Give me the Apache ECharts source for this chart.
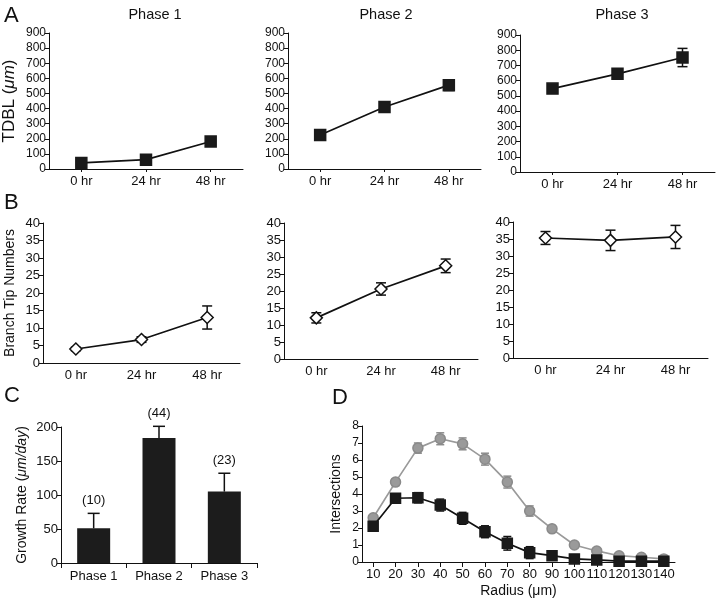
<!DOCTYPE html>
<html>
<head>
<meta charset="utf-8">
<script src="https://cdn.jsdelivr.net/npm/echarts@6/dist/echarts.min.js"></script>
<style>
html,body{margin:0;padding:0;background:#fff;}
#main{width:720px;height:603px;}
</style>
</head>
<body>
<div id="main"></div>
<script>
// ---- Data ----
const hours = ['0 hr', '24 hr', '48 hr'];
const tdblP1 = [40, 62, 182];
const tdblP1Err = [10, 10, 22];
const tdblP2 = [225, 410, 555];
const tdblP2Err = [12, 15, 35];
const tdblP3 = [548, 645, 752];
const tdblP3Err = [12, 22, 60];
const tdblTicks = [0, 900, 100];

const tipsP1 = [4.0, 6.7, 13.0];
const tipsP1Err = [0.5, 0.8, 3.3];
const tipsP2 = [12.1, 20.6, 27.4];
const tipsP2Err = [1.5, 1.8, 2.0];
const tipsP3 = [35.3, 34.6, 35.6];
const tipsP3Err = [1.9, 3.0, 3.4];
const tipsTicks = [0, 40, 5];

const phases = ['Phase 1', 'Phase 2', 'Phase 3'];
const growthRate = [51, 184, 105];
const growthErr = [22, 17, 27];
const growthN = ['(10)', '(44)', '(23)'];
const growthTicks = [0, 200, 50];

const radius = ['10','20','30','40','50','60','70','80','90','100','110','120','130','140'];
const intersectGray = [2.6, 4.7, 6.7, 7.25, 6.95, 6.05, 4.7, 3.0, 1.95, 1.0, 0.65, 0.37, 0.28, 0.18];
const intersectGrayErr = [0.15, 0.2, 0.3, 0.35, 0.35, 0.35, 0.35, 0.3, 0.2, 0.12, 0.1, 0.08, 0.06, 0.05];
const intersectBlack = [2.1, 3.75, 3.78, 3.35, 2.57, 1.78, 1.1, 0.55, 0.37, 0.18, 0.12, 0.05, 0.05, 0.05];
const intersectBlackErr = [0.1, 0.2, 0.3, 0.35, 0.35, 0.35, 0.4, 0.35, 0.2, 0.12, 0.08, 0.05, 0.05, 0.05];
const intersectTicks = [0, 8, 1];

// ---- Helpers ----
const FONT = 'Liberation Sans, Arial, Helvetica, sans-serif';
const INK = '#111';

function errData(vals, errs) { return vals.map((v, i) => [i, v, errs[i]]); }

function errRender(color, capHalf, lw) {
  return function (params, api) {
    const x = api.value(0), v = api.value(1), e = api.value(2);
    const top = api.coord([x, v + e]);
    const bot = api.coord([x, v - e]);
    const st = { stroke: color, lineWidth: lw };
    return {
      type: 'group',
      children: [
        { type: 'line', shape: { x1: top[0], y1: top[1], x2: bot[0], y2: bot[1] }, style: st },
        { type: 'line', shape: { x1: top[0] - capHalf, y1: top[1], x2: top[0] + capHalf, y2: top[1] }, style: st },
        { type: 'line', shape: { x1: bot[0] - capHalf, y1: bot[1], x2: bot[0] + capHalf, y2: bot[1] }, style: st }
      ]
    };
  };
}

function barErrRender(params, api) {
  const x = api.value(0), v = api.value(1), e = api.value(2);
  const base = api.coord([x, v]);
  const top = api.coord([x, v + e]);
  const st = { stroke: INK, lineWidth: 1.5 };
  return {
    type: 'group',
    children: [
      { type: 'line', shape: { x1: base[0], y1: base[1], x2: top[0], y2: top[1] }, style: st },
      { type: 'line', shape: { x1: top[0] - 6, y1: top[1], x2: top[0] + 6, y2: top[1] }, style: st },
      { type: 'text', x: top[0], y: top[1] - 6,
        style: { text: growthN[params.dataIndex], fill: INK, font: '13px ' + FONT, align: 'center', verticalAlign: 'bottom' } }
    ]
  };
}

function yAx(gi, ticks, labelSize, name, nameGap, nameSize, rich) {
  return {
    type: 'value', gridIndex: gi, min: ticks[0], max: ticks[1], interval: ticks[2],
    splitLine: { show: false },
    axisLine: { show: true, lineStyle: { color: INK, width: 1 } },
    axisTick: { show: true, length: 4, lineStyle: { color: INK } },
    axisLabel: { color: INK, fontSize: labelSize, fontFamily: FONT, margin: 3 },
    name: name || '', nameLocation: 'middle', nameGap: nameGap || 0,
    nameTextStyle: { color: INK, fontSize: nameSize || 14, fontFamily: FONT, rich: rich || {} }
  };
}

function xAx(gi, cats, opts) {
  opts = opts || {};
  return Object.assign({
    type: 'category', gridIndex: gi, data: cats, boundaryGap: true,
    axisLine: { show: true, onZero: false, lineStyle: { color: INK, width: 1 } },
    axisTick: { show: true, alignWithLabel: true, length: 3, lineStyle: { color: INK } },
    axisLabel: { color: INK, fontSize: 13, fontFamily: FONT, margin: 6, interval: 0 },
    splitLine: { show: false }
  }, opts);
}

function lineSeries(gi, data, symbol, size, fill, border, lineColor) {
  return {
    type: 'line', xAxisIndex: gi, yAxisIndex: gi, data: data,
    symbol: symbol, symbolSize: size, showSymbol: true,
    itemStyle: { color: fill, borderColor: border, borderWidth: 1.5 },
    lineStyle: { color: lineColor, width: 1.7 },
    z: 5, animation: false
  };
}

function errSeries(gi, vals, errs, color, capHalf) {
  return {
    type: 'custom', xAxisIndex: gi, yAxisIndex: gi,
    data: errData(vals, errs), renderItem: errRender(color, capHalf, 1.5),
    encode: { x: 0, y: 1 }, z: 3, animation: false
  };
}

const italicRich = { i: { fontStyle: 'italic', fontSize: 17, fontFamily: FONT, color: INK } };
const italicRich14 = { i: { fontStyle: 'italic', fontSize: 14, fontFamily: FONT, color: INK } };

const option = {
  backgroundColor: '#fff',
  animation: false,
  textStyle: { fontFamily: FONT },
  grid: [
    { left: 48, top: 33, width: 195, height: 136 },
    { left: 288, top: 33, width: 193, height: 136 },
    { left: 520, top: 35, width: 195, height: 137 },
    { left: 43, top: 223, width: 197, height: 140 },
    { left: 284, top: 223, width: 194, height: 136 },
    { left: 513, top: 222, width: 195, height: 136 },
    { left: 61, top: 427, width: 196, height: 136 },
    { left: 362, top: 426, width: 313, height: 136 }
  ],
  xAxis: [
    xAx(0, hours), xAx(1, hours), xAx(2, hours),
    xAx(3, hours, { axisTick: { show: false } }),
    xAx(4, hours, { axisTick: { show: false } }),
    xAx(5, hours, { axisTick: { show: false } }),
    xAx(6, phases, { axisTick: { show: true, alignWithLabel: false, length: 5, lineStyle: { color: INK } }, axisLabel: { color: INK, fontSize: 13, fontFamily: FONT, margin: 7, interval: 0 } }),
    xAx(7, radius, {
      axisTick: { show: true, alignWithLabel: true, length: 5, lineStyle: { color: INK } },
      axisLabel: { color: INK, fontSize: 13, fontFamily: FONT, margin: 6, interval: 0, hideOverlap: false },
      name: 'Radius (μm)', nameLocation: 'middle', nameGap: 22,
      nameTextStyle: { color: INK, fontSize: 14, fontFamily: FONT }
    })
  ],
  yAxis: [
    yAx(0, tdblTicks, 12, 'TDBL ({i|μm})', 31, 17, italicRich),
    yAx(1, tdblTicks, 12),
    yAx(2, tdblTicks, 12),
    yAx(3, tipsTicks, 13, 'Branch Tip Numbers', 26, 14),
    yAx(4, tipsTicks, 13),
    yAx(5, tipsTicks, 13),
    yAx(6, growthTicks, 13, 'Growth Rate ({i|μm/day})', 32, 14, italicRich14),
    yAx(7, intersectTicks, 12, 'Intersections', 19, 14)
  ],
  graphic: [
    { type: 'text', x: 4, y: 5, style: { text: 'A', font: '22px ' + FONT, fill: INK } },
    { type: 'text', x: 4, y: 192, style: { text: 'B', font: '22px ' + FONT, fill: INK } },
    { type: 'text', x: 4, y: 385, style: { text: 'C', font: '22px ' + FONT, fill: INK } },
    { type: 'text', x: 332, y: 387, style: { text: 'D', font: '22px ' + FONT, fill: INK } },
    { type: 'text', x: 155, y: 7, style: { text: 'Phase 1', font: '14.5px ' + FONT, fill: INK, align: 'center' } },
    { type: 'text', x: 386, y: 7, style: { text: 'Phase 2', font: '14.5px ' + FONT, fill: INK, align: 'center' } },
    { type: 'text', x: 622, y: 7, style: { text: 'Phase 3', font: '14.5px ' + FONT, fill: INK, align: 'center' } }
  ],
  series: [
    errSeries(0, tdblP1, tdblP1Err, INK, 4),
    lineSeries(0, tdblP1, 'rect', 11, '#1a1a1a', '#1a1a1a', INK),
    errSeries(1, tdblP2, tdblP2Err, INK, 5),
    lineSeries(1, tdblP2, 'rect', 11, '#1a1a1a', '#1a1a1a', INK),
    errSeries(2, tdblP3, tdblP3Err, INK, 5),
    lineSeries(2, tdblP3, 'rect', 11, '#1a1a1a', '#1a1a1a', INK),

    errSeries(3, tipsP1, tipsP1Err, INK, 5),
    lineSeries(3, tipsP1, 'diamond', 12, '#fff', INK, INK),
    errSeries(4, tipsP2, tipsP2Err, INK, 5),
    lineSeries(4, tipsP2, 'diamond', 12, '#fff', INK, INK),
    errSeries(5, tipsP3, tipsP3Err, INK, 5),
    lineSeries(5, tipsP3, 'diamond', 12, '#fff', INK, INK),

    {
      type: 'bar', xAxisIndex: 6, yAxisIndex: 6, data: growthRate,
      barWidth: 33, itemStyle: { color: '#1c1c1c' }, z: 2, animation: false
    },
    {
      type: 'custom', xAxisIndex: 6, yAxisIndex: 6,
      data: errData(growthRate, growthErr), renderItem: barErrRender,
      encode: { x: 0, y: 1 }, z: 3, animation: false
    },

    errSeries(7, intersectGray, intersectGrayErr, '#8c8c8c', 4),
    lineSeries(7, intersectGray, 'circle', 10, '#9a9a9a', '#8a8a8a', '#9a9a9a'),
    errSeries(7, intersectBlack, intersectBlackErr, INK, 4),
    Object.assign(lineSeries(7, intersectBlack, 'rect', 10, '#1a1a1a', '#1a1a1a', INK), { z: 6 })
  ]
};

const chart = echarts.init(document.getElementById('main'), null, { renderer: 'canvas' });
chart.setOption(option);
</script>
</body>
</html>
